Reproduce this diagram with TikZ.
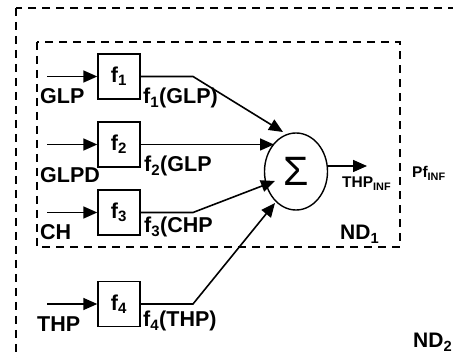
\documentclass[tikz,border=0pt]{standalone}
\usepackage{fontspec}
\setmainfont{Liberation Sans}
\usetikzlibrary{arrows.meta,shapes.geometric}
\tikzset{
  fbox/.style={draw,line width=1.4pt,minimum width=42pt,minimum height=45pt,inner sep=0pt,
    font=\fontsize{21.5}{22}\selectfont\bfseries},
  lbl/.style={anchor=base west,inner sep=0pt,font=\fontsize{21.5}{22}\selectfont\bfseries},
  slbl/.style={anchor=base west,inner sep=0pt,font=\fontsize{15.5}{16}\selectfont\bfseries},
  ndlbl/.style={anchor=base west,inner sep=0pt,font=\fontsize{21}{22}\selectfont\bfseries},
  dbox/.style={draw,line width=1.6pt,dash pattern=on 8pt off 6pt},
  wire/.style={line width=1.6pt},
  arr/.style={wire,-{Triangle[length=14pt,width=12pt]}},
}
\begin{document}
\begin{tikzpicture}[x=1pt,y=-1pt]
\useasboundingbox (0,0) rectangle (453,358);
\clip (0,0) rectangle (453,358);
% dashed frames
\draw[dbox] (16,8) rectangle (480,380);
\draw[dbox] (37,42) rectangle (400,247);
% function boxes
\node[fbox] (f1) at (119,76.5) {f\textsubscript{1}};
\node[fbox] (f2) at (119,144.5) {f\textsubscript{2}};
\node[fbox] (f3) at (119,212.5) {f\textsubscript{3}};
\node[fbox] (f4) at (119,304) {f\textsubscript{4}};
% summation
\node[draw,ellipse,line width=1.4pt,minimum width=63pt,minimum height=77pt,inner sep=0pt,
  font=\fontsize{41}{41}\selectfont] (sig) at (296,171.5) {Σ};
% input coordinates
\coordinate (i1) at (47,76.5);
\coordinate (i2) at (47,144.5);
\coordinate (i3) at (47,212.5);
\coordinate (i4) at (47,304);
\draw[arr] (i1) -- (f1.west);
\draw[arr] (i2) -- (f2.west);
\draw[arr] (i3) -- (f3.west);
\draw[arr] (i4) -- (f4.west);
% outputs to summation
\coordinate (b1) at (193,76.5);
\coordinate (b3) at (193,212.5);
\coordinate (b4) at (193,304);
\coordinate (t1) at (283,132);
\coordinate (t2) at (274,144.5);
\coordinate (t3) at (275,181);
\coordinate (t4) at (275,203);
\draw[arr] (f1.east) -- (b1) -- (t1);
\draw[arr] (f2.east) -- (t2);
\draw[arr] (f3.east) -- (b3) -- (t3);
\draw[arr] (f4.east) -- (b4) -- (t4);
% output
\coordinate (o) at (367,166);
\draw[arr] (sig.east |- o) -- (o);
% labels
\node[lbl] (lglp) at (40,104) {GLP};
\node[lbl] (lf1) at (143,104) {f\textsubscript{1}(GLP)};
\node[lbl] (lglpd) at (40,183) {GLPD};
\node[lbl] (lf2) at (144,172) {f\textsubscript{2}(GLP};
\node[lbl] (lch) at (40,240) {CH};
\node[lbl] (lf3) at (144,233) {f\textsubscript{3}(CHP};
\node[lbl] (lthp) at (37,332) {THP};
\node[lbl] (lf4) at (143,327) {f\textsubscript{4}(THP)};
\node[slbl] (lthpinf) at (342,188) {THP\textsubscript{INF}};
\node[slbl] (lpf) at (412,178) {Pf\textsubscript{INF}};
\node[ndlbl] (lnd1) at (340,240) {ND\textsubscript{1}};
\node[ndlbl] (lnd2) at (413,348) {ND\textsubscript{2}};
\end{tikzpicture}
\end{document}
